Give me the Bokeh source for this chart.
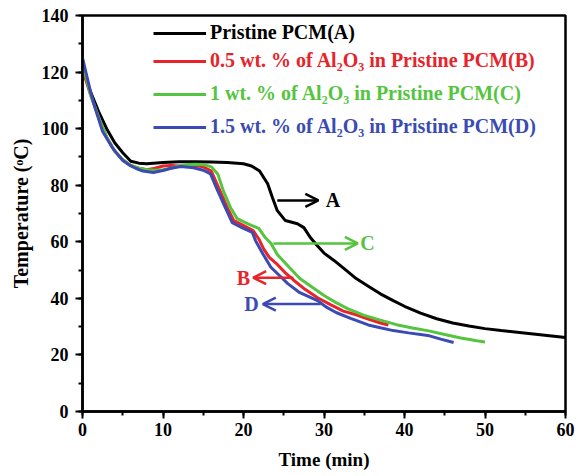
from bokeh.plotting import figure
from bokeh.models import (Range1d, SingleIntervalTicker, Legend, LegendItem,
                          Arrow, OpenHead, Label)
from bokeh.embed import file_html
from bokeh.resources import INLINE

# Cooling curves: time (min) and temperature (°C) of each sample
time_a = [0, 1, 2, 3, 4, 5, 6, 7, 8, 10, 12, 14, 16, 18, 20, 21, 22, 23, 23.6,
          24.2, 25.2, 26.7, 27.5, 28.3, 29.2, 30, 31.2, 32.5, 34, 35.5, 37, 38.6,
          40, 42, 44, 46, 48, 50, 52, 54, 56, 58, 60]
temp_a = [121, 113, 106, 100, 95, 91.5, 88.5, 87.8, 87.6, 88, 88.3, 88.3, 88.2,
          88, 87.6, 86.8, 85, 80.5, 75.6, 71, 67.5, 66.4, 65, 61.5, 58.5, 56,
          53.5, 50.5, 47, 44.3, 41.6, 39.2, 37.2, 34.8, 32.8, 31.3, 30.2, 29.3,
          28.6, 28, 27.4, 26.8, 26.2]

time_b = [0, 1, 2, 3, 4, 5, 6, 7, 8, 9, 10, 11, 12, 13, 14, 15, 16, 17, 18,
          18.8, 20.5, 21.2, 21.9, 22.5, 23.2, 24.2, 25.2, 26.2, 27.5, 29.2, 30.8,
          32.4, 34, 35.4, 37, 38]
temp_b = [121, 112, 104, 97, 92, 89, 87, 86, 85.5, 86, 86.8, 87, 86.8, 87, 87,
          86.5, 85, 78.5, 72, 67.5, 65, 64, 61, 57.5, 54.5, 52, 49, 46.5, 43.5,
          40.2, 37.8, 35.5, 34.2, 32.8, 31.3, 30.6]

time_c = [0, 1, 2, 3, 4, 5, 6, 7, 8, 9, 10, 11, 12, 13, 14, 15, 16, 16.8, 17.5,
          18.4, 19.2, 20.5, 21.9, 22.7, 23.4, 24.2, 25.5, 27, 28.5, 30, 31.5, 33,
          35, 37, 39, 41, 43, 45, 47, 49, 50]
temp_c = [123, 112, 104, 97, 92, 89, 87, 86, 85.5, 85.3, 85.5, 86, 86.8, 87.3,
          87.4, 87.3, 86.5, 84, 78, 72, 68.2, 66.4, 64.7, 61.5, 59.5, 55.5, 51.5,
          47, 44, 41, 38.5, 36.3, 34, 32.3, 30.7, 29.5, 28.5, 27.2, 26, 25, 24.6]

time_d = [0, 1, 1.6, 2.5, 3.7, 5, 6, 6.6, 7.5, 8.8, 10, 11, 12.2, 13.8, 15, 15.9,
          16.8, 17.8, 18.6, 20, 21.1, 21.5, 22.4, 23.4, 24.5, 25.5, 27, 29.2,
          30.4, 31.5, 33.3, 35.5, 37, 38.6, 40.5, 42.9, 44.5, 46.1]
temp_d = [125, 113, 107, 99, 93.3, 88.7, 86.8, 86, 85, 84.5, 85.2, 86, 86.6,
          86.2, 85.3, 84, 78, 71.7, 66.8, 64.7, 63.3, 60.4, 55.8, 51, 48, 45.2,
          42, 39.2, 36.7, 35, 32.9, 30.6, 29.6, 28.6, 27.8, 26.9, 25.6, 24.4]

labels = ["Pristine PCM(A)",
          "0.5 wt. % of Al\u2082O\u2083 in Pristine PCM(B)",
          "1 wt. % of Al\u2082O\u2083 in Pristine PCM(C)",
          "1.5 wt. % of Al\u2082O\u2083 in Pristine PCM(D)"]
letters = ["A", "B", "C", "D"]
colors = ["#000000", "#e8232a", "#55c43f", "#3a4bb3"]

# callout arrows: (x_start, x_end, y) in data units, letter x position
arrow_specs = [(24.2, 29.3, 74.6, 31.1),
               (26.2, 21.2, 47.3, 20.0),
               (23.7, 34.2, 59.4, 35.4),
               (29.6, 22.4, 38.0, 21.0)]

FONT = "Liberation Serif"

p = figure(width=580, height=476, output_backend="svg", toolbar_location=None,
           x_range=Range1d(0, 60), y_range=Range1d(0, 140),
           min_border_left=82, min_border_right=15, min_border_top=15,
           min_border_bottom=65)
p.xgrid.visible = False
p.ygrid.visible = False
p.outline_line_color = "black"
p.outline_line_width = 2.5
p.background_fill_color = "white"
p.border_fill_color = "white"

p.xaxis.ticker = SingleIntervalTicker(interval=10, num_minor_ticks=2)
p.yaxis.ticker = SingleIntervalTicker(interval=20, num_minor_ticks=2)
p.xaxis.axis_label = "Time (min)"
p.yaxis.axis_label = "Temperature (\u1d52C)"
for ax in (p.xaxis[0], p.yaxis[0]):
    ax.axis_line_width = 2.5
    ax.axis_line_color = "black"
    ax.major_tick_line_width = 2
    ax.minor_tick_line_width = 2
    ax.major_tick_in = 0
    ax.major_tick_out = 7
    ax.minor_tick_in = 0
    ax.minor_tick_out = 4
    ax.major_label_text_font = FONT
    ax.major_label_text_font_style = "bold"
    ax.major_label_text_font_size = "18px"
    ax.major_label_text_color = "black"
    ax.axis_label_text_font = FONT
    ax.axis_label_text_font_style = "bold"
    ax.axis_label_text_font_size = "19px"
    ax.axis_label_text_color = "black"
p.xaxis.major_label_standoff = 4
p.xaxis.axis_label_standoff = 10
p.yaxis.major_label_standoff = 7
p.yaxis.axis_label_standoff = 7
p.yaxis.axis_label_text_font_size = "20px"

series = [(time_a, temp_a), (time_b, temp_b), (time_c, temp_c), (time_d, temp_d)]
renderers = []
for (t, T), c in zip(series, colors):
    renderers.append(p.line(t, T, line_color=c, line_width=3))

# one legend per row so that each label takes its series colour
row_bottoms = [367, 339, 306, 273]
for r, lab, c, vy in zip(renderers, labels, colors, row_bottoms):
    leg = Legend(items=[LegendItem(label=lab, renderers=[r])],
                 location=(71, vy), label_text_color=c,
                 label_text_font=FONT, label_text_font_style="bold",
                 label_text_font_size="20px", glyph_width=53, glyph_height=20,
                 label_height=20, label_standoff=4, padding=0, margin=0,
                 spacing=0, border_line_alpha=0, background_fill_alpha=0)
    p.add_layout(leg)

for (xs, xe, y, xl), c, letter in zip(arrow_specs, colors, letters):
    p.add_layout(Arrow(end=OpenHead(size=13, line_color=c, line_width=2.5),
                       x_start=xs, y_start=y, x_end=xe, y_end=y,
                       line_color=c, line_width=2.5))
    p.add_layout(Label(x=xl, y=y, text=letter, text_color=c, text_font=FONT,
                       text_font_style="bold", text_font_size="20px",
                       text_align="center", text_baseline="middle"))

open("out.html", "w").write(file_html(p, INLINE))
